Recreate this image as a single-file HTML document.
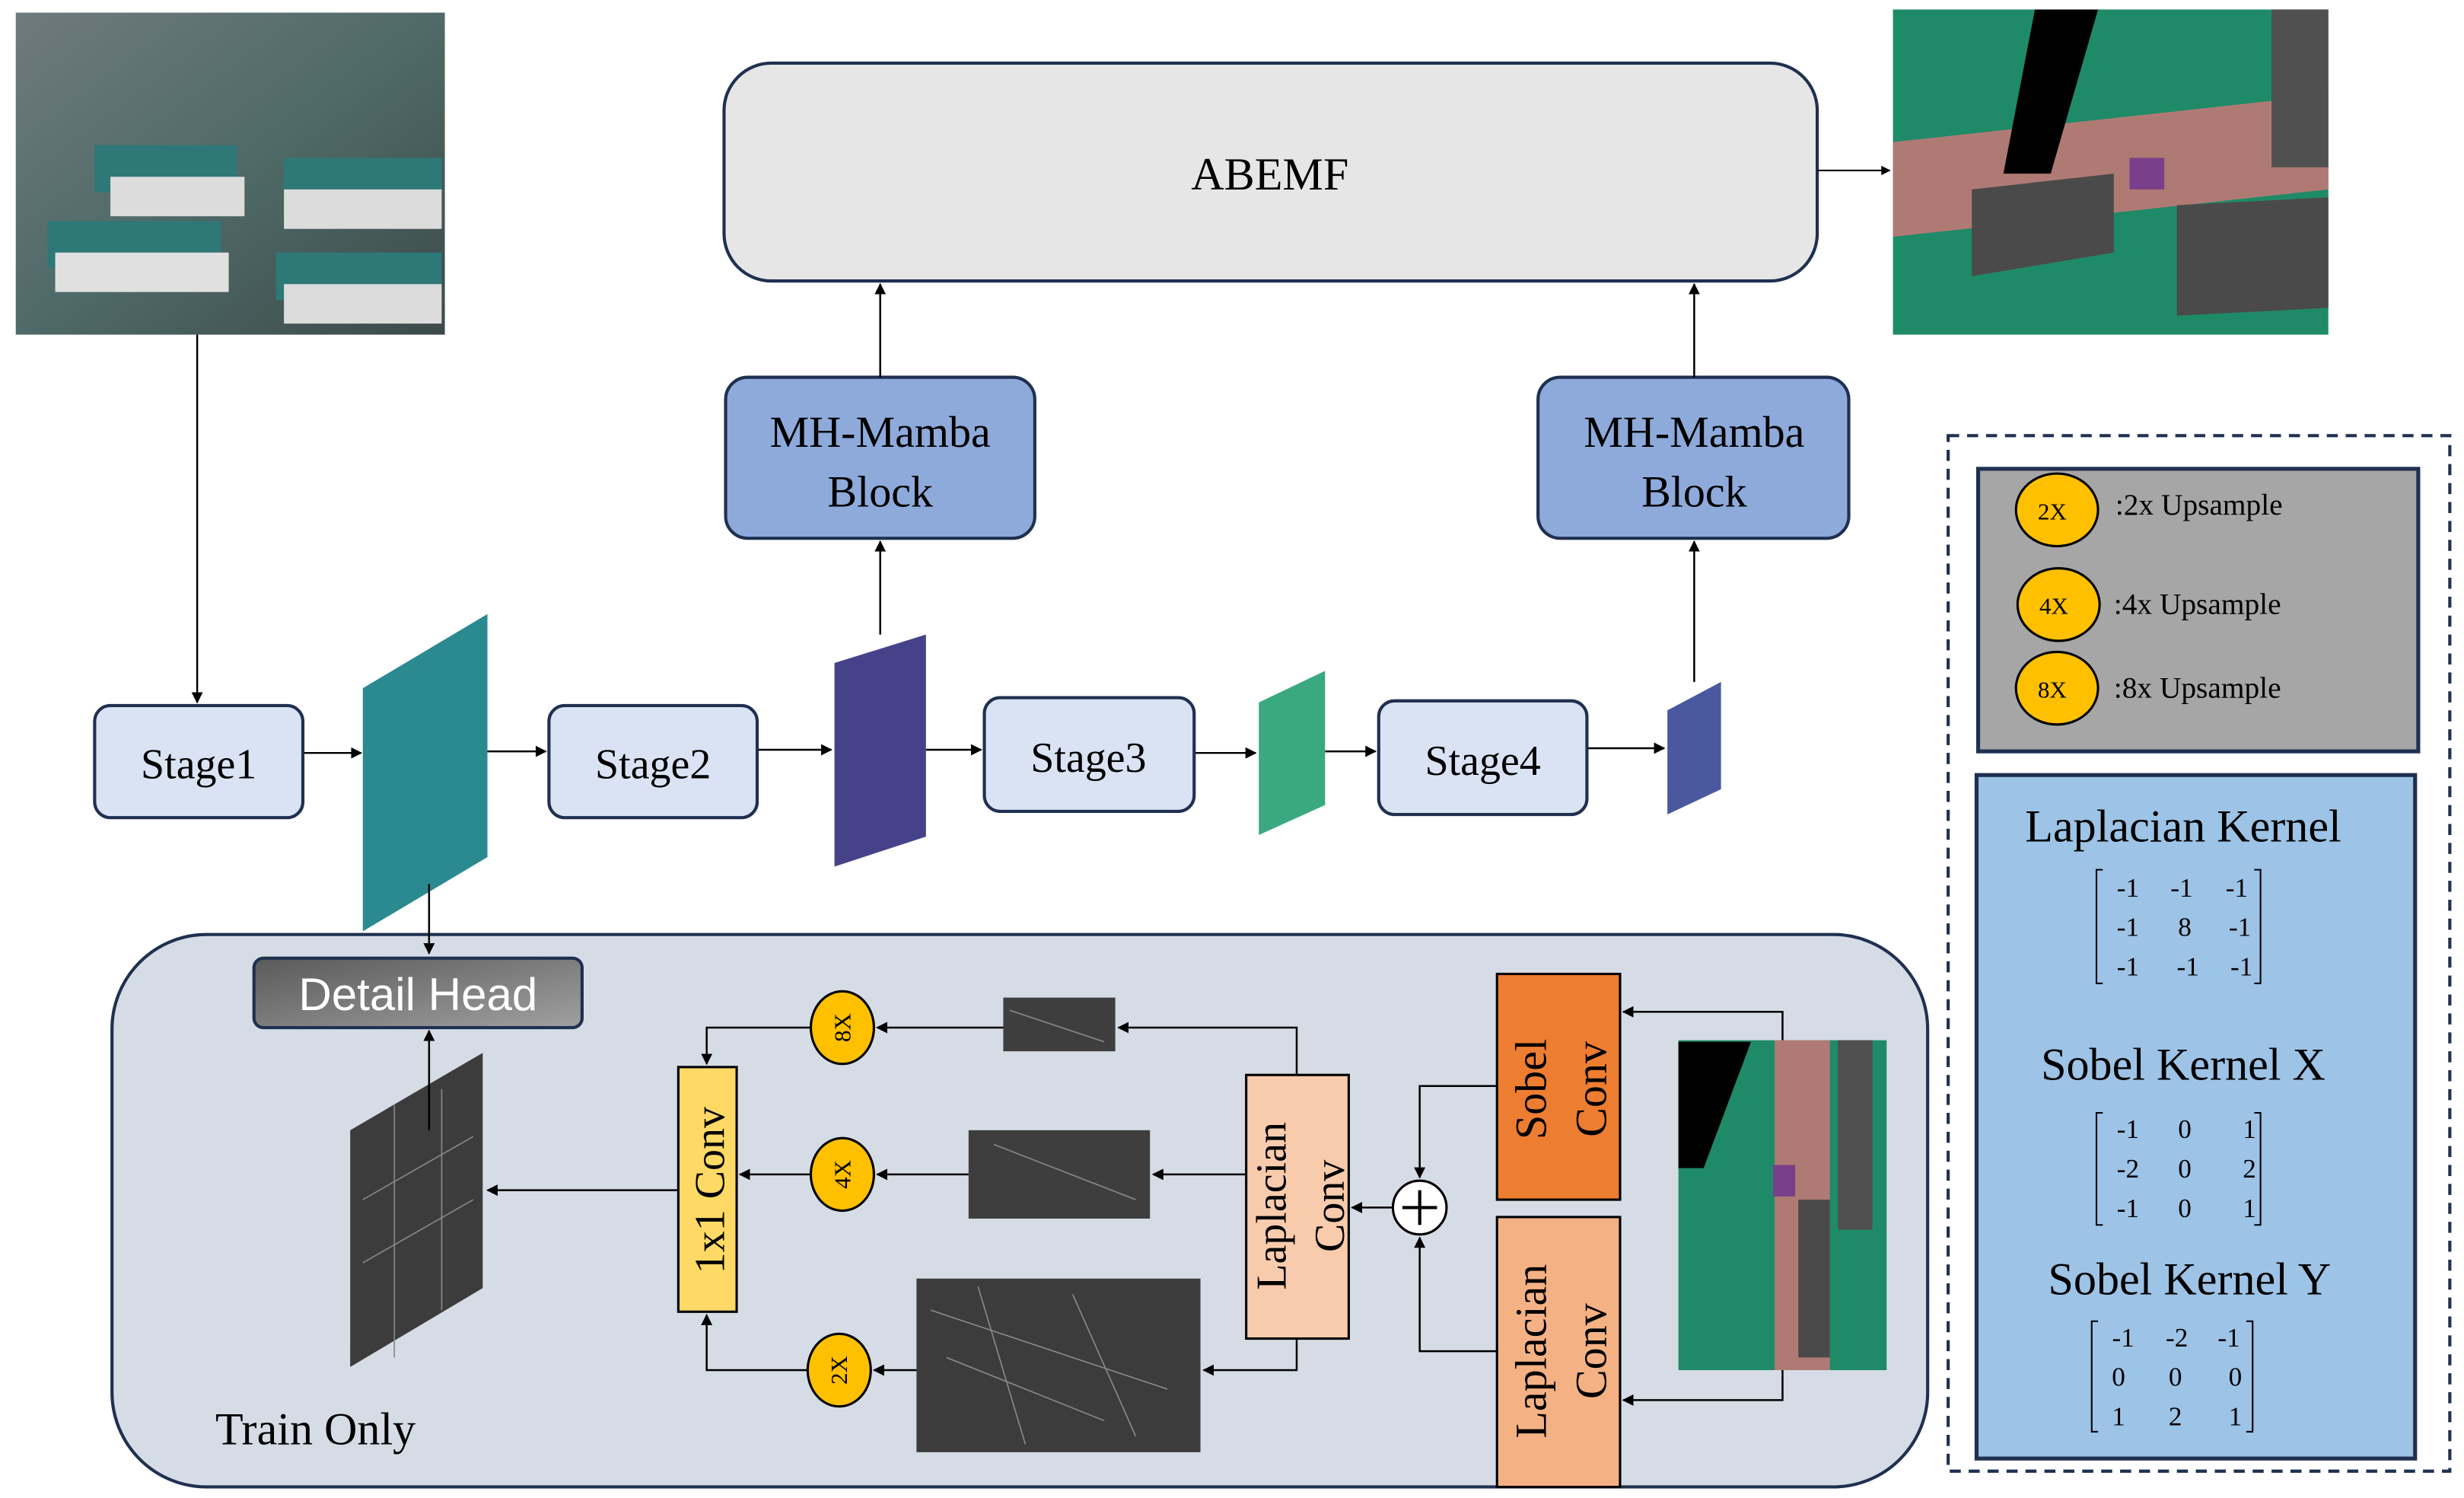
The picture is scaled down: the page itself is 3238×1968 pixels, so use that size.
<!DOCTYPE html>
<html><head><meta charset="utf-8"><style>
html,body{margin:0;padding:0;background:#fff;}
svg{display:block;}
text{font-family:"Liberation Serif",serif;fill:#000;}
</style></head><body>
<svg width="3238" height="1968" viewBox="0 0 1562 949" preserveAspectRatio="none" xmlns="http://www.w3.org/2000/svg">
<defs>
<marker id="a" viewBox="0 0 10 10" refX="9" refY="5" markerWidth="6" markerHeight="6" orient="auto-start-reverse"><path d="M0,0L10,5L0,10z" fill="#000"/></marker>
<linearGradient id="dh" x1="0" y1="0" x2="1" y2="1"><stop offset="0" stop-color="#5a5a5a"/><stop offset="1" stop-color="#a0a0a0"/></linearGradient>
<linearGradient id="ph" x1="0" y1="0" x2="1" y2="1"><stop offset="0" stop-color="#6f7a7c"/><stop offset="0.5" stop-color="#4f6a68"/><stop offset="1" stop-color="#3c4a48"/></linearGradient>
</defs>
<!-- photo -->
<rect x="10" y="8" width="272" height="204" fill="url(#ph)"/>
<rect x="60" y="92" width="90" height="30" fill="#2f7878"/><rect x="30" y="140" width="110" height="30" fill="#2f7878"/><rect x="180" y="100" width="100" height="30" fill="#2f7878"/><rect x="175" y="160" width="105" height="30" fill="#2f7878"/>
<rect x="35" y="160" width="110" height="25" fill="#e0e0e0"/><rect x="70" y="112" width="85" height="25" fill="#dcdcdc"/><rect x="180" y="120" width="100" height="25" fill="#dcdcdc"/><rect x="180" y="180" width="100" height="25" fill="#dcdcdc"/>
<!-- seg top right -->
<rect x="1200" y="6" width="276" height="206" fill="#1f8a68"/>
<polygon points="1200,90 1476,60 1476,120 1200,150" fill="#b07a74"/>
<polygon points="1250,120 1340,110 1340,160 1250,175" fill="#4a4a4a"/>
<polygon points="1380,130 1476,125 1476,195 1380,200" fill="#4a4a4a"/>
<polygon points="1290,6 1330,6 1300,110 1270,110" fill="#000"/>
<rect x="1440" y="6" width="36" height="100" fill="#505050"/>
<rect x="1350" y="100" width="22" height="20" fill="#7a3f8a"/>
<!-- ABEMF -->
<rect x="459" y="40" width="693" height="138" rx="30" fill="#e6e6e6" stroke="#1f3050" stroke-width="2"/>
<text x="805" y="120" font-size="29" text-anchor="middle">ABEMF</text>
<line x1="1152" y1="108" x2="1198" y2="108" stroke="#000" marker-end="url(#a)"/>
<!-- MH Mamba -->
<rect x="460" y="239" width="196" height="102" rx="14" fill="#8eaadb" stroke="#1f3050" stroke-width="2"/>
<text x="558" y="283" font-size="28" text-anchor="middle">MH-Mamba</text><text x="558" y="321" font-size="28" text-anchor="middle">Block</text>
<rect x="975" y="239" width="197" height="102" rx="14" fill="#8eaadb" stroke="#1f3050" stroke-width="2"/>
<text x="1074" y="283" font-size="28" text-anchor="middle">MH-Mamba</text><text x="1074" y="321" font-size="28" text-anchor="middle">Block</text>
<g stroke="#000" stroke-width="1.2" fill="none">
<line x1="558" y1="239" x2="558" y2="180" marker-end="url(#a)"/>
<line x1="1074" y1="239" x2="1074" y2="180" marker-end="url(#a)"/>
<line x1="558" y1="402" x2="558" y2="343" marker-end="url(#a)"/>
<line x1="1074" y1="432" x2="1074" y2="343" marker-end="url(#a)"/>
<line x1="125" y1="212" x2="125" y2="445" marker-end="url(#a)"/>
<line x1="192" y1="477" x2="229" y2="477" marker-end="url(#a)"/>
<line x1="290" y1="476" x2="346" y2="476" marker-end="url(#a)"/>
<line x1="480" y1="475" x2="527" y2="475" marker-end="url(#a)"/>
<line x1="587" y1="475" x2="622" y2="475" marker-end="url(#a)"/>
<line x1="757" y1="477" x2="796" y2="477" marker-end="url(#a)"/>
<line x1="840" y1="476" x2="872" y2="476" marker-end="url(#a)"/>
<line x1="1006" y1="474" x2="1055" y2="474" marker-end="url(#a)"/>
</g>
<!-- stages -->
<g fill="#dae3f3" stroke="#1f3050" stroke-width="2">
<rect x="60" y="447" width="132" height="71" rx="10"/>
<rect x="348" y="447" width="132" height="71" rx="10"/>
<rect x="624" y="442" width="133" height="72" rx="10"/>
<rect x="874" y="444" width="132" height="72" rx="10"/>
</g>
<g font-size="27" text-anchor="middle">
<text x="126" y="493">Stage1</text><text x="414" y="493">Stage2</text><text x="690" y="489">Stage3</text><text x="940" y="491">Stage4</text>
</g>
<!-- bottom container -->
<rect x="71" y="592" width="1151" height="350" rx="60" fill="#d6dce5" stroke="#1f3050" stroke-width="2"/>
<!-- feature maps -->
<polygon points="230,436 309,389 309,543 230,590" fill="#2a8a90"/>
<polygon points="529,420 587,402 587,530 529,549" fill="#46428a"/>
<polygon points="798,445 840,425 840,510 798,529" fill="#3aa880"/>
<polygon points="1057,450 1091,432 1091,500 1057,516" fill="#4a58a0"/>
<line x1="272" y1="560" x2="272" y2="604" stroke="#000" stroke-width="1.2" marker-end="url(#a)"/>
<!-- detail head -->
<rect x="161" y="607" width="208" height="44" rx="6" fill="url(#dh)" stroke="#1f3050" stroke-width="2"/>
<text x="265" y="640" font-size="29" text-anchor="middle" style="font-family:'Liberation Sans',sans-serif;fill:#fff">Detail Head</text>
<text x="200" y="915" font-size="29" text-anchor="middle">Train Only</text>
<!-- edge maps -->
<polygon points="222,716 306,667 306,816 222,866" fill="#3c3c3c"/>
<rect x="636" y="632" width="71" height="34" fill="#3e3e3e"/>
<rect x="614" y="716" width="115" height="56" fill="#3e3e3e"/>
<rect x="581" y="810" width="180" height="110" fill="#3c3c3c"/>
<g stroke="#888" stroke-width="0.8" fill="none">
<path d="M590,830 L740,880 M600,860 L700,900 M620,815 L650,915 M680,820 L720,910 M630,725 L720,760 M640,640 L700,660"/>
<path d="M230,760 L300,720 M230,800 L300,760 M250,700 L250,860 M280,690 L280,830"/>
</g>
<!-- 1x1 conv -->
<rect x="430" y="676" width="37" height="155" fill="#ffd966" stroke="#000" stroke-width="1.5"/>
<text transform="translate(459,754) rotate(-90)" font-size="27" text-anchor="middle">1x1 Conv</text>
<g stroke="#000" stroke-width="1.2" fill="none">
<line x1="430" y1="754" x2="309" y2="754" marker-end="url(#a)"/>
<line x1="272" y1="716" x2="272" y2="653" marker-end="url(#a)"/>
<polyline points="514,651 448,651 448,674" marker-end="url(#a)"/>
<polyline points="512,868 448,868 448,833" marker-end="url(#a)"/>
<line x1="514" y1="744" x2="469" y2="744" marker-end="url(#a)"/>
<line x1="636" y1="651" x2="556" y2="651" marker-end="url(#a)"/>
<line x1="614" y1="744" x2="556" y2="744" marker-end="url(#a)"/>
<line x1="581" y1="868" x2="554" y2="868" marker-end="url(#a)"/>
<polyline points="822,681 822,651 709,651" marker-end="url(#a)"/>
<line x1="790" y1="744" x2="731" y2="744" marker-end="url(#a)"/>
<polyline points="822,848 822,868 763,868" marker-end="url(#a)"/>
<line x1="883" y1="765" x2="857" y2="765" marker-end="url(#a)"/>
<polyline points="949,688 900,688 900,746" marker-end="url(#a)"/>
<polyline points="949,856 900,856 900,784" marker-end="url(#a)"/>
<polyline points="1130,659 1130,641 1029,641" marker-end="url(#a)"/>
<polyline points="1130,868 1130,887 1029,887" marker-end="url(#a)"/>
</g>
<!-- circles -->
<g fill="#ffc000" stroke="#000" stroke-width="1.5">
<ellipse cx="534" cy="651" rx="20" ry="23"/><ellipse cx="534" cy="744" rx="20" ry="23"/><ellipse cx="532" cy="868" rx="20" ry="23"/>
</g>
<g font-size="15" text-anchor="middle">
<text transform="translate(539,651) rotate(-90)">8X</text>
<text transform="translate(539,744) rotate(-90)">4X</text>
<text transform="translate(537,868) rotate(-90)">2X</text>
</g>
<!-- laplacian 1 -->
<rect x="790" y="681" width="65" height="167" fill="#f8cbad" stroke="#000" stroke-width="1.5"/>
<text transform="translate(815,764) rotate(-90)" font-size="27" text-anchor="middle">Laplacian</text>
<text transform="translate(852,764) rotate(-90)" font-size="27" text-anchor="middle">Conv</text>
<circle cx="900" cy="765" r="17" fill="#fff" stroke="#000" stroke-width="1.5"/>
<path d="M889,765 H911 M900,754 V776" stroke="#000" stroke-width="2"/>
<!-- sobel -->
<rect x="949" y="617" width="78" height="143" fill="#ed7d31" stroke="#000" stroke-width="1.5"/>
<text transform="translate(980,690) rotate(-90)" font-size="28" text-anchor="middle">Sobel</text>
<text transform="translate(1018,690) rotate(-90)" font-size="28" text-anchor="middle">Conv</text>
<rect x="949" y="771" width="78" height="171" fill="#f4b183" stroke="#000" stroke-width="1.5"/>
<text transform="translate(980,856) rotate(-90)" font-size="28" text-anchor="middle">Laplacian</text>
<text transform="translate(1018,856) rotate(-90)" font-size="28" text-anchor="middle">Conv</text>
<!-- seg 2 -->
<rect x="1064" y="659" width="132" height="209" fill="#1f8a68"/>
<polygon points="1125,659 1160,659 1160,868 1125,868" fill="#b07a74"/>
<rect x="1165" y="659" width="22" height="120" fill="#505050"/>
<polygon points="1064,660 1110,660 1080,740 1064,740" fill="#000"/>
<rect x="1140" y="760" width="20" height="100" fill="#4a4a4a"/>
<rect x="1124" y="738" width="14" height="20" fill="#7a3f8a"/>
<!-- legend -->
<rect x="1235" y="276" width="318" height="656" fill="none" stroke="#1f3050" stroke-width="2" stroke-dasharray="7,5"/>
<rect x="1254" y="297" width="279" height="179" fill="#a6a6a6" stroke="#1f3050" stroke-width="2.5"/>
<g fill="#ffc000" stroke="#000" stroke-width="1.5">
<ellipse cx="1304" cy="323" rx="26" ry="23"/><ellipse cx="1305" cy="383" rx="26" ry="23"/><ellipse cx="1304" cy="436" rx="26" ry="23"/>
</g>
<g font-size="15" text-anchor="middle"><text x="1301" y="329">2X</text><text x="1302" y="389">4X</text><text x="1301" y="442">8X</text></g>
<g font-size="19"><text x="1341" y="326">:2x Upsample</text><text x="1340" y="389">:4x Upsample</text><text x="1340" y="442">:8x Upsample</text></g>
<rect x="1253" y="491" width="278" height="433" fill="#9dc3e6" stroke="#1f3050" stroke-width="2.5"/>
<g font-size="29" text-anchor="middle"><text x="1384" y="533">Laplacian Kernel</text><text x="1384" y="684">Sobel Kernel X</text><text x="1388" y="820">Sobel Kernel Y</text></g>
<g font-size="17" text-anchor="middle">
<text x="1349" y="568">-1</text><text x="1383" y="568">-1</text><text x="1418" y="568">-1</text>
<text x="1349" y="593">-1</text><text x="1385" y="593">8</text><text x="1420" y="593">-1</text>
<text x="1349" y="618">-1</text><text x="1387" y="618">-1</text><text x="1421" y="618">-1</text>
<text x="1349" y="721">-1</text><text x="1385" y="721">0</text><text x="1426" y="721">1</text>
<text x="1349" y="746">-2</text><text x="1385" y="746">0</text><text x="1426" y="746">2</text>
<text x="1349" y="771">-1</text><text x="1385" y="771">0</text><text x="1426" y="771">1</text>
<text x="1346" y="853">-1</text><text x="1380" y="853">-2</text><text x="1413" y="853">-1</text>
<text x="1343" y="878">0</text><text x="1379" y="878">0</text><text x="1417" y="878">0</text>
<text x="1343" y="903">1</text><text x="1379" y="903">2</text><text x="1417" y="903">1</text>
</g>
<g stroke="#000" stroke-width="1" fill="none">
<path d="M1333,551 H1329 V623 H1333 M1429,551 H1433 V623 H1429"/>
<path d="M1333,705 H1329 V776 H1333 M1429,705 H1433 V776 H1429"/>
<path d="M1330,837 H1326 V907 H1330 M1424,837 H1428 V907 H1424"/>
</g>
</svg>
</body></html>
